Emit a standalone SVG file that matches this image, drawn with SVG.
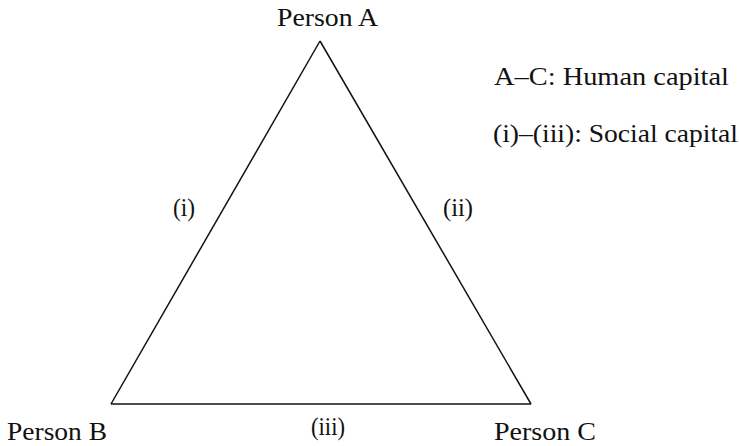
<svg xmlns="http://www.w3.org/2000/svg" width="739" height="446" viewBox="0 0 739 446">
<style>
text{font-family:'Liberation Serif','Times New Roman',serif;font-size:26px;fill:#111}
.edge{stroke:#111;stroke-width:1.5;fill:none}
</style>
<rect width="739" height="446" fill="#fff"/>
<g id="connectors">
<line class="edge" x1="320" y1="41" x2="111" y2="404"/>
<line class="edge" x1="320" y1="41" x2="531" y2="404"/>
<line class="edge" x1="111" y1="404" x2="531" y2="404"/>
<text x="173" y="216" textLength="22" lengthAdjust="spacingAndGlyphs">(i)</text>
<text x="443" y="216" textLength="30" lengthAdjust="spacingAndGlyphs">(ii)</text>
<text x="311" y="435" textLength="34" lengthAdjust="spacingAndGlyphs">(iii)</text>
</g>
<g id="personA"><text x="277" y="26" textLength="101" lengthAdjust="spacingAndGlyphs">Person A</text></g>
<g id="personB"><text x="7" y="440" textLength="100" lengthAdjust="spacingAndGlyphs">Person B</text></g>
<g id="personC"><text x="494" y="440" textLength="102" lengthAdjust="spacingAndGlyphs">Person C</text></g>
<g id="legend">
<text x="494" y="85" textLength="235" lengthAdjust="spacingAndGlyphs">A–C: Human capital</text>
<text x="493" y="142" textLength="245" lengthAdjust="spacingAndGlyphs">(i)–(iii): Social capital</text>
</g>
</svg>
